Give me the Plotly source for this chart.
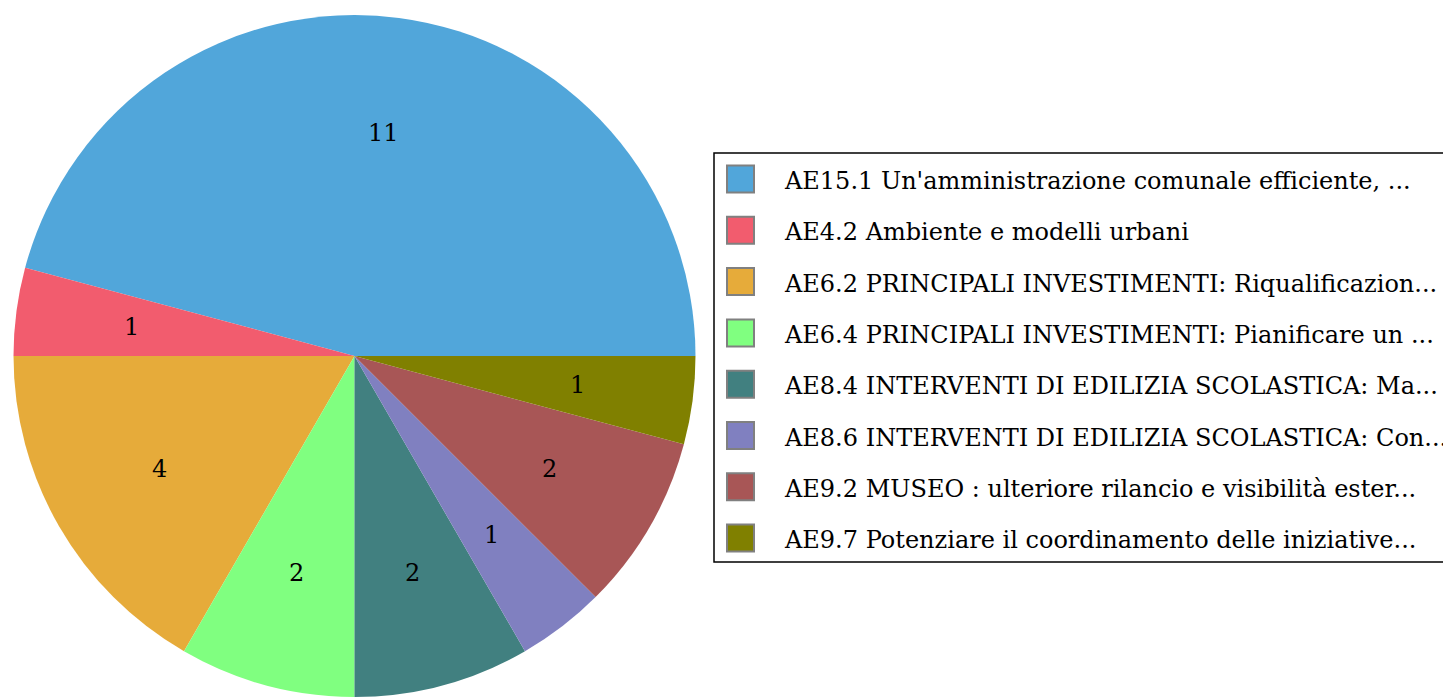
import math
import plotly.graph_objects as go

W, H = 1443, 697

labels = [
    "AE15.1 Un'amministrazione comunale efficiente, ...",
    "AE4.2 Ambiente e modelli urbani",
    "AE6.2 PRINCIPALI INVESTIMENTI: Riqualificazion...",
    "AE6.4 PRINCIPALI INVESTIMENTI: Pianificare un ...",
    "AE8.4 INTERVENTI DI EDILIZIA SCOLASTICA: Ma...",
    "AE8.6 INTERVENTI DI EDILIZIA SCOLASTICA: Con...",
    "AE9.2 MUSEO : ulteriore rilancio e visibilità ester...",
    "AE9.7 Potenziare il coordinamento delle iniziative...",
]
values = [11, 1, 4, 2, 2, 1, 2, 1]
colors = ["#51A6DA", "#F25C6E", "#E6AB3A", "#80FF80",
          "#418080", "#8080C0", "#A85656", "#808000"]

FONT = "DejaVu Serif"


def px_x(p):
    return p / W


def px_y(p):
    return 1 - p / H


# pie geometry (page pixels)
top_px = 15
R = (H - top_px) / 2
cx_px, cy_px = 354.5, top_px + R
dom_y = [0, px_y(top_px)]
dom_x = [px_x(cx_px - R), px_x(cx_px + R)]

total = sum(values)
# first slice starts at 3 o'clock and runs counterclockwise
rotation = 90 - values[0] / total * 360

fig = go.Figure(go.Pie(
    labels=labels, values=values, sort=False,
    direction="counterclockwise", rotation=rotation,
    marker=dict(colors=colors, line=dict(width=0)),
    textinfo="none", hoverinfo="label+value",
    domain=dict(x=dom_x, y=dom_y), showlegend=False,
))

annotations = []
shapes = []
# value labels along slice bisector
cum = 0
for v in values:
    mid = (cum + v / 2) / total * 2 * math.pi
    cum += v
    px = cx_px + 0.66 * R * math.cos(mid)
    py = cy_px - 0.66 * R * math.sin(mid)
    annotations.append(dict(
        x=px_x(px), y=px_y(py), xref="paper", yref="paper",
        text=str(v), showarrow=False,
        font=dict(family=FONT, size=24, color="black"),
        xanchor="center", yanchor="middle",
    ))

# custom legend
leg_left, leg_top, leg_bottom = 714, 153, 562
shapes.append(dict(type="rect", xref="paper", yref="paper",
                   x0=px_x(leg_left), x1=1.2,
                   y0=px_y(leg_bottom), y1=px_y(leg_top),
                   line=dict(color="black", width=1.5), fillcolor="white",
                   layer="below"))
row0, step = 179, 51.3
for i, (lab, c) in enumerate(zip(labels, colors)):
    yc = row0 + i * step
    shapes.append(dict(type="rect", xref="paper", yref="paper",
                       x0=px_x(727), x1=px_x(754),
                       y0=px_y(yc + 13.5), y1=px_y(yc - 13.5),
                       line=dict(color="#808080", width=2), fillcolor=c))
    annotations.append(dict(
        x=px_x(782), y=px_y(yc + 2), xref="paper", yref="paper",
        text=lab, showarrow=False,
        font=dict(family=FONT, size=24, color="black"),
        xanchor="left", yanchor="middle",
    ))

fig.update_layout(
    width=W, height=H,
    margin=dict(l=0, r=0, t=0, b=0),
    paper_bgcolor="white", plot_bgcolor="white",
    annotations=annotations, shapes=shapes,
    font=dict(family=FONT),
)

fig.write_html(
    "out.html",
    config={"displayModeBar": False},
    post_script="document.body.style.margin='0';document.body.style.overflow='hidden';",
)
